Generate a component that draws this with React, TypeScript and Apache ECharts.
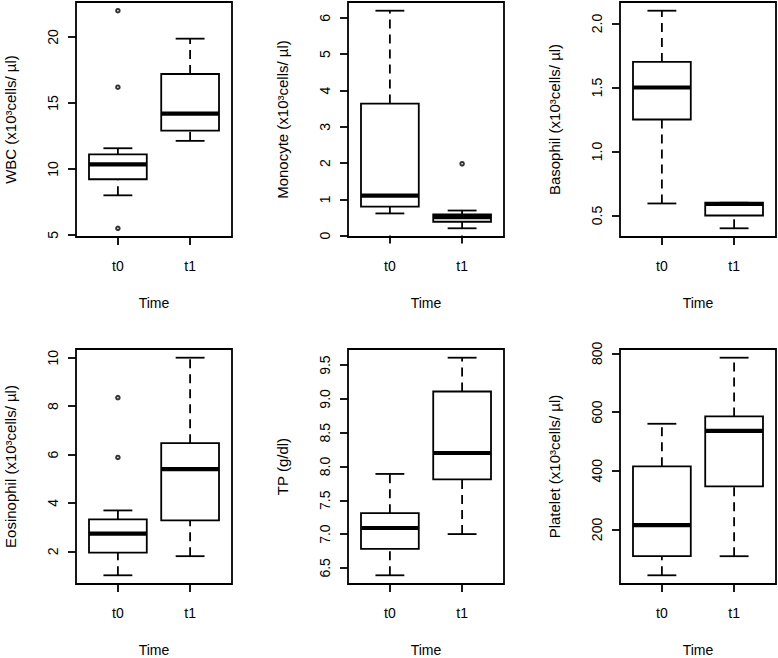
import React, { useEffect, useRef } from "react";
import * as echarts from "echarts";

const groups = ["t0", "t1"];
const xTitle = "Time";
const yTitles = [
  "WBC (x10³cells/ µl)",
  "Monocyte (x10³cells/ µl)",
  "Basophil (x10³cells/ µl)",
  "Eosinophil (x10³cells/ µl)",
  "TP (g/dl)",
  "Platelet (x10³cells/ µl)",
];

// five-number stats per group: [lower whisker, Q1, median, Q3, upper whisker]
const wbcStats = [
  [8.0, 9.22, 10.35, 11.1, 11.57],
  [12.13, 12.9, 14.2, 17.2, 19.88],
];
const monoStats = [
  [0.61, 0.8, 1.1, 3.64, 6.2],
  [0.2, 0.38, 0.51, 0.58, 0.69],
];
const basoStats = [
  [0.594, 1.25, 1.5, 1.7, 2.1],
  [0.4, 0.5, 0.59, 0.6, 0.6],
];
const eosStats = [
  [1.01, 1.95, 2.73, 3.32, 3.69],
  [1.8, 3.28, 5.4, 6.47, 10.0],
];
const tpStats = [
  [6.39, 6.78, 7.09, 7.31, 7.89],
  [7.0, 7.81, 8.2, 9.11, 9.61],
];
const pltStats = [
  [44, 109, 215, 415, 560],
  [109, 347, 536, 585, 785],
];

// outliers: [group position, value]
const wbcOutliers = [[1, 22.0], [1, 16.2], [1, 5.5]];
const monoOutliers = [[2, 1.98]];
const basoOutliers: number[][] = [];
const eosOutliers = [[1, 8.35], [1, 5.88]];
const tpOutliers: number[][] = [];
const pltOutliers: number[][] = [];

// y tick values
const wbcTicks = [5, 10, 15, 20];
const monoTicks = [0, 1, 2, 3, 4, 5, 6];
const basoTicks = [0.5, 1.0, 1.5, 2.0];
const eosTicks = [2, 4, 6, 8, 10];
const tpTicks = [6.5, 7.0, 7.5, 8.0, 8.5, 9.0, 9.5];
const pltTicks = [200, 400, 600, 800];
const tickDecimals = [0, 0, 1, 0, 1, 0];

const allStats = [wbcStats, monoStats, basoStats, eosStats, tpStats, pltStats];
const allOutliers = [wbcOutliers, monoOutliers, basoOutliers, eosOutliers, tpOutliers, pltOutliers];
const allTicks = [wbcTicks, monoTicks, basoTicks, eosTicks, tpTicks, pltTicks];

const FONT = "'Liberation Sans', Arial, sans-serif";
const LW = 1.8;

const colLefts = [76, 348, 620];
const rowTops = [2, 349];
const plotW = 156;
const plotH = 235;

export default function App() {
  const ref = useRef<HTMLDivElement>(null);
  useEffect(() => {
    if (!ref.current) return;
    const chart = echarts.init(ref.current, undefined, { renderer: "svg" });
    const grids: any[] = [];
    const xAxes: any[] = [];
    const yAxes: any[] = [];
    const series: any[] = [];
    for (let i = 0; i < 6; i++) {
      const col = i % 3;
      const row = Math.floor(i / 3);
      grids.push({
        left: colLefts[col],
        top: rowTops[row],
        width: plotW,
        height: plotH,
        show: true,
        borderColor: "#000",
        borderWidth: LW,
        backgroundColor: "transparent",
      });
      const vals: number[] = [];
      allStats[i].forEach((s) => vals.push(...s));
      allOutliers[i].forEach((o) => vals.push(o[1]));
      const lo = Math.min(...vals);
      const hi = Math.max(...vals);
      const ext = (hi - lo) * 0.04;
      const dec = tickDecimals[i];
      xAxes.push({
        gridIndex: i,
        type: "value",
        min: 0.42,
        max: 2.58,
        splitLine: { show: false },
        axisLine: { show: false },
        axisTick: {
          customValues: [1, 2],
          length: 8,
          lineStyle: { color: "#000", width: LW },
        },
        axisLabel: {
          customValues: [1, 2],
          formatter: (v: number) => groups[Math.round(v) - 1],
          color: "#000",
          fontSize: 14,
          fontFamily: FONT,
          margin: 22,
        },
        name: xTitle,
        nameLocation: "middle",
        nameGap: 59,
        nameTextStyle: { color: "#000", fontSize: 14, fontFamily: FONT },
      });
      yAxes.push({
        gridIndex: i,
        type: "value",
        min: lo - ext,
        max: hi + ext,
        splitLine: { show: false },
        axisLine: { show: false },
        axisTick: {
          customValues: allTicks[i],
          length: 8,
          lineStyle: { color: "#000", width: LW },
        },
        axisLabel: {
          customValues: allTicks[i],
          formatter: (v: number) => v.toFixed(dec),
          rotate: 90,
          color: "#000",
          fontSize: 14,
          fontFamily: FONT,
          margin: 16,
        },
        name: yTitles[i],
        nameLocation: "middle",
        nameGap: 58,
        nameTextStyle: { color: "#000", fontSize: 15, fontFamily: FONT },
      });
      series.push({
        type: "custom",
        xAxisIndex: i,
        yAxisIndex: i,
        data: allStats[i].map((s, g) => [g + 1, ...s]),
        encode: { x: 0, y: [1, 2, 3, 4, 5] },
        renderItem: (params: any, api: any) => {
          const x = api.value(0);
          const pLo = api.coord([x, api.value(1)]);
          const pQ1 = api.coord([x, api.value(2)]);
          const pMed = api.coord([x, api.value(3)]);
          const pQ3 = api.coord([x, api.value(4)]);
          const pHi = api.coord([x, api.value(5)]);
          const half = api.size([0.4, 0])[0];
          const capHalf = half / 2;
          const cx = pLo[0];
          const dash = { stroke: "#000", lineWidth: LW, lineDash: [9, 6] };
          const solid = { stroke: "#000", lineWidth: LW };
          return {
            type: "group",
            children: [
              { type: "line", shape: { x1: cx, y1: pLo[1], x2: cx, y2: pQ1[1] }, style: dash },
              { type: "line", shape: { x1: cx, y1: pQ3[1], x2: cx, y2: pHi[1] }, style: dash },
              { type: "line", shape: { x1: cx - capHalf, y1: pLo[1], x2: cx + capHalf, y2: pLo[1] }, style: solid },
              { type: "line", shape: { x1: cx - capHalf, y1: pHi[1], x2: cx + capHalf, y2: pHi[1] }, style: solid },
              {
                type: "rect",
                shape: { x: cx - half, y: pQ3[1], width: half * 2, height: pQ1[1] - pQ3[1] },
                style: { fill: "#fff", stroke: "#000", lineWidth: LW },
              },
              {
                type: "line",
                shape: { x1: cx - half, y1: pMed[1], x2: cx + half, y2: pMed[1] },
                style: { stroke: "#000", lineWidth: 4.2 },
              },
            ],
          };
        },
      });
      series.push({
        type: "scatter",
        xAxisIndex: i,
        yAxisIndex: i,
        data: allOutliers[i],
        symbol: "emptyCircle",
        symbolSize: 3.5,
        itemStyle: { color: "#000", borderColor: "#000", borderWidth: 1 },
      });
    }
    chart.setOption({
      animation: false,
      backgroundColor: "#fff",
      grid: grids,
      xAxis: xAxes,
      yAxis: yAxes,
      series,
    });
    return () => chart.dispose();
  }, []);
  return (
    <div
      ref={ref}
      style={{ position: "fixed", left: 0, top: 0, width: 778, height: 658 }}
    />
  );
}
